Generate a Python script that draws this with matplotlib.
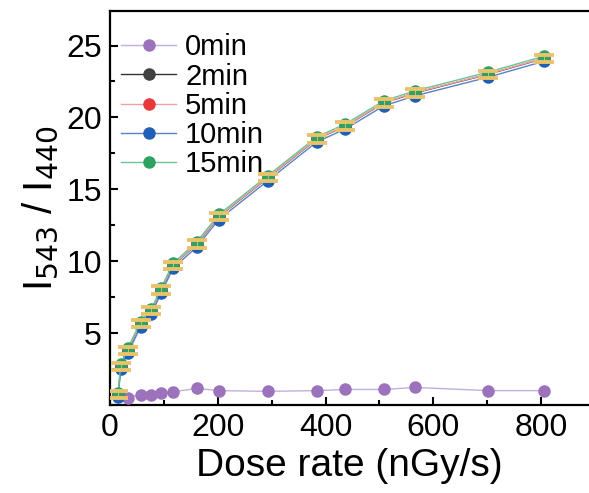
import matplotlib
matplotlib.use("Agg")
import matplotlib.pyplot as plt
from matplotlib.ticker import MultipleLocator

plt.rcParams['font.family'] = ['Liberation Sans', 'DejaVu Sans']

# dose rate (nGy/s)
dose_0 = [15, 33, 57, 77, 95, 117, 161, 202, 293, 384, 437, 508, 566, 702, 805]
dose = [15, 20, 33, 57, 77, 95, 117, 161, 202, 293, 384, 437, 508, 566, 702, 805]

ratio_0min = [0.6, 0.52, 0.73, 0.7, 0.8, 0.92, 1.15, 1.0, 0.95, 1.0, 1.08, 1.08, 1.22, 1.0, 1.0]
ratio_2min = [0.72, 2.68, 3.8, 5.65, 6.55, 8.0, 9.7, 11.2, 13.1, 15.8, 18.5, 19.4, 21.0, 21.7, 23.0, 24.1]
ratio_5min = [0.74, 2.70, 3.82, 5.67, 6.57, 8.02, 9.72, 11.22, 13.12, 15.82, 18.52, 19.42, 21.02, 21.72, 23.02, 24.12]
ratio_10min = [0.55, 2.5, 3.6, 5.45, 6.35, 7.8, 9.5, 11.0, 12.9, 15.6, 18.3, 19.2, 20.8, 21.5, 22.8, 23.9]
ratio_15min = [0.85, 2.82, 3.95, 5.8, 6.7, 8.15, 9.85, 11.35, 13.25, 15.95, 18.65, 19.55, 21.15, 21.85, 23.15, 24.25]
err_2min = [0.25, 0.25, 0.25, 0.25, 0.25, 0.25, 0.25, 0.25, 0.25, 0.25, 0.25, 0.25, 0.25, 0.25, 0.25, 0.25]

labels = ['0min', '2min', '5min', '10min', '15min']
marker_colors = ['#9c72bd', '#404040', '#e8383b', '#1f5fb5', '#2ea263']
line_colors = ['#c2aedb', '#333333', '#f2a0a0', '#5a82c6', '#6cc394']

fig = plt.figure(figsize=(5.89, 4.93), dpi=100)
ax = fig.add_axes([110/589, 1 - 405/493, 1 - 110/589, (405 - 11)/493])

series = [(dose_0, ratio_0min), (dose, ratio_2min), (dose, ratio_5min),
          (dose, ratio_10min), (dose, ratio_15min)]
for (xs, ys), lab, mc, lc in zip(series, labels, marker_colors, line_colors):
    ax.plot(xs, ys, '-', color=lc, lw=1.0, marker='o', ms=8,
            mfc=mc, mec=mc, label=lab, zorder=3)

ax.errorbar(dose, ratio_2min, yerr=err_2min, fmt='none', ecolor='#e9c36c',
            elinewidth=0.6, capsize=7.5, capthick=2.8, zorder=5)

ax.set_xlim(0, 889)
ax.set_ylim(0, 27.4)
ax.xaxis.set_major_locator(MultipleLocator(200))
ax.xaxis.set_minor_locator(MultipleLocator(100))
ax.set_yticks([5, 10, 15, 20, 25])
ax.yaxis.set_minor_locator(MultipleLocator(2.5))
ax.tick_params(which='both', direction='in', width=1.5, labelsize=23, pad=6)
ax.tick_params(which='major', length=6)
ax.tick_params(which='minor', length=3.5)
for s in ['left', 'bottom', 'top']:
    ax.spines[s].set_linewidth(1.6)
ax.spines['right'].set_visible(False)

ax.set_xlabel('Dose rate (nGy/s)', fontsize=28, labelpad=3)
ax.set_ylabel('I$_{543}$ / I$_{440}$', fontsize=29, labelpad=4)

leg = ax.legend(loc='upper left', bbox_to_anchor=(-0.02, 0.995), frameon=False,
                fontsize=21, handlelength=1.9, handletextpad=0.3,
                labelspacing=0.04, borderaxespad=0.3)

fig.savefig('out.png', dpi=100)
